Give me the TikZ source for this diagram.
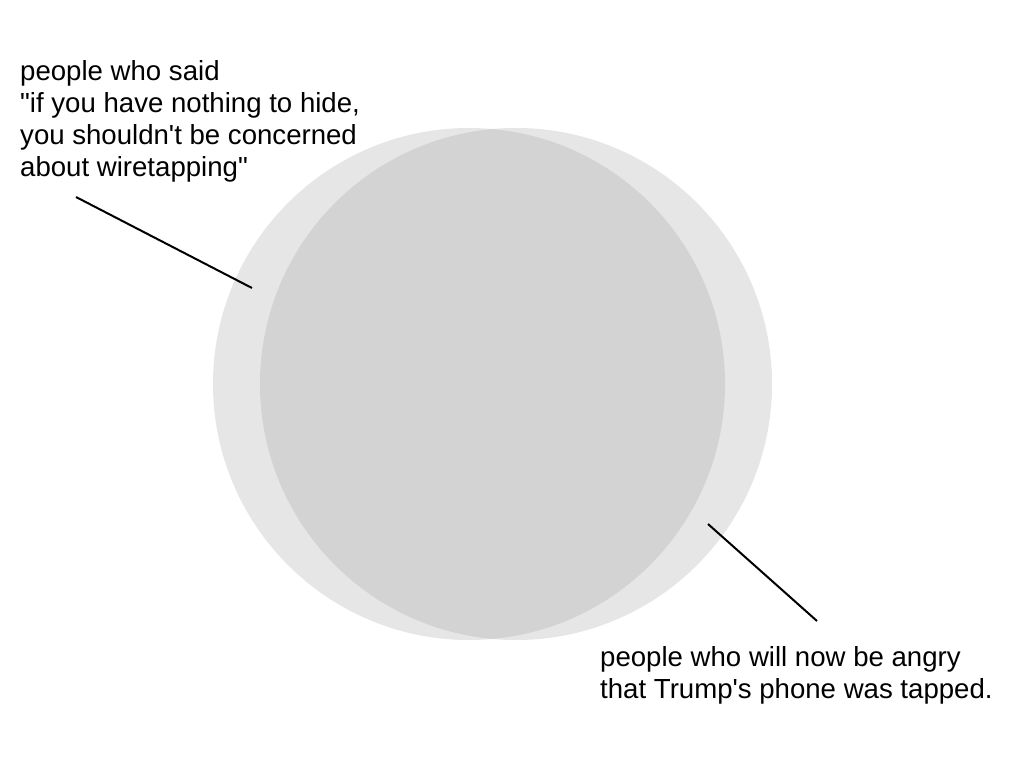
\documentclass[tikz,border=0pt]{standalone}
\usepackage{fontspec}
\setmainfont{Liberation Sans}[Ligatures=TeXOff]
\usetikzlibrary{positioning}

\definecolor{setlight}{HTML}{E6E6E6}
\definecolor{setdark}{HTML}{D3D3D3}

\begin{document}
\begin{tikzpicture}[x=1pt, y=-1pt,
    label/.style={anchor=north west, align=left, inner sep=0pt, font=\fontsize{27.6}{32}\selectfont},
    pointer/.style={black, line width=2pt}]
    \useasboundingbox (0,0) rectangle (1024,768);
    \fill[white] (0,0) rectangle (1024,768);
    % the two sets
    \fill[setlight] (469,384) circle (256);
    \fill[setlight] (516,384) circle (256);
    \begin{scope}
        \clip (469,384) circle (256);
        \fill[setdark] (516,384) circle (256);
    \end{scope}
    % labels
    \node[label] (said) at (20,60.5) {people who said\\"if you have nothing to hide,\\you shouldn't be concerned\\about wiretapping"};
    \node[label] (angry) at (600,646.5) {people who will now be angry\\that Trump's phone was tapped.};
    \coordinate (saidtip) at (76,197);
    \coordinate (saidend) at (252,288);
    \coordinate (angrytip) at (817,621);
    \coordinate (angryend) at (708,524);
    \draw[pointer] (saidtip) -- (saidend);
    \draw[pointer] (angrytip) -- (angryend);
\end{tikzpicture}
\end{document}
